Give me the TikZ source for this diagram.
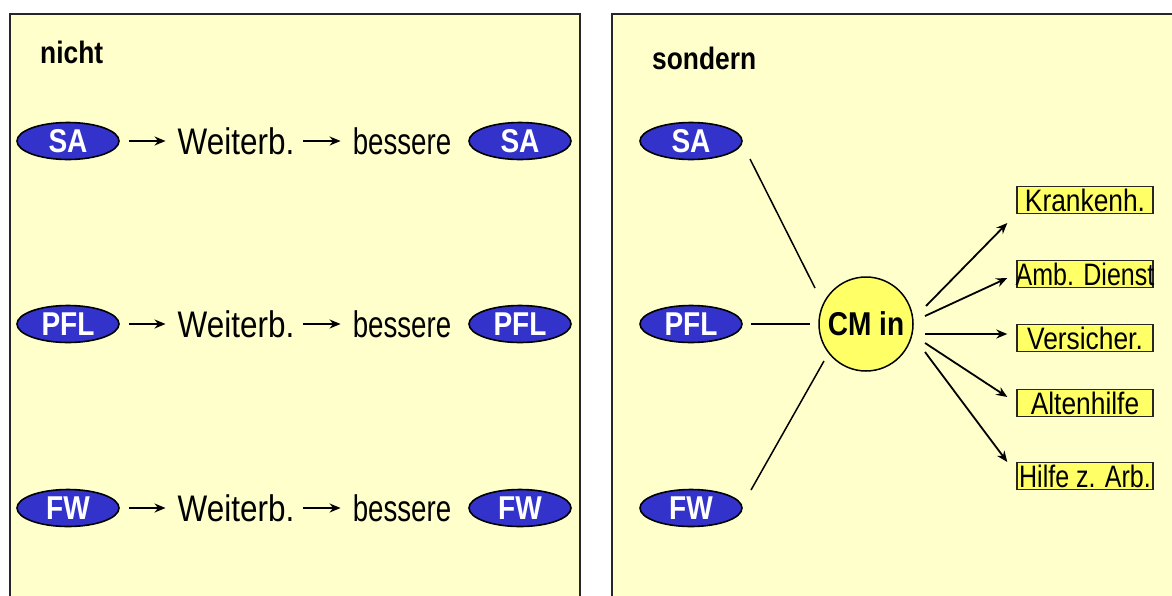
\documentclass[tikz,border=0pt]{standalone}
\usepackage{fontspec}
\setmainfont{Liberation Sans}
\newfontfamily\cf[FakeStretch=0.85]{Liberation Sans}
\usetikzlibrary{arrows.meta,shapes.geometric}
\definecolor{panelbg}{HTML}{FFFFCC}
\definecolor{ellblue}{HTML}{3333CC}
\definecolor{cmyellow}{HTML}{FFFF66}
\tikzset{
  panelbox/.style={draw=black!85, line width=1.5pt, fill=panelbg},
  grp/.style={ellipse, draw=black, line width=1.6pt, fill=ellblue, minimum width=102pt, minimum height=37pt, inner sep=0pt,
     text=white, font=\cf\bfseries\fontsize{33}{33}\selectfont},
  wordtxt/.style={inner sep=0pt, font=\cf\fontsize{37}{37}\selectfont},
  ttl/.style={inner sep=0pt, anchor=west, font=\cf\bfseries\fontsize{31}{31}\selectfont},
  cmcircle/.style={circle, draw=black, line width=1.5pt, fill=cmyellow, minimum size=94pt, inner sep=0pt,
     font=\cf\bfseries\fontsize{33}{33}\selectfont},
  inst/.style={draw=black!85, line width=1.4pt, fill=cmyellow, minimum width=136pt, minimum height=27pt, inner sep=0pt,
     font=\cf\fontsize{31}{31}\selectfont},
  sarr/.style={-{Stealth[length=11pt,width=9pt]}, line width=1.8pt},
  conn/.style={line width=1.5pt},
}
\newcommand{\fixw}[1]{\makebox[136pt][c]{#1}}
\begin{document}
\begin{tikzpicture}[x=1pt,y=-1pt]
\useasboundingbox (0,0) rectangle (1172,595);
\fill[white] (0,0) rectangle (1172,595);
\begin{scope}
\clip (0,0) rectangle (1172,595);
\draw[panelbox] (10,14) rectangle (580,610);
\draw[panelbox] (612,14) rectangle (1190,610);
\end{scope}

\node[ttl] (nicht) at (40,52) {nicht};
\node[ttl] (sondern) at (652,58) {sondern};

% left panel rows
\foreach \lab/\y in {SA/141, PFL/324, FW/508}{
  \node[grp] (L\lab) at (68,\y) {\lab};
  \node[wordtxt] (W\lab) at (236,\y) {Weiterb.};
  \node[wordtxt] (B\lab) at (402,\y) {\scalebox{0.88}[1]{bessere}};
  \node[grp] (R\lab) at (520,\y) {\lab};
  \draw[sarr] ([xshift=9pt]L\lab.east) -- ([xshift=-12pt]W\lab.west);
  \draw[sarr] ([xshift=9pt]W\lab.east) -- ([xshift=-12pt]B\lab.west);
}

% right panel
\node[grp] (SA) at (691,141) {SA};
\node[grp] (PFL) at (691,324) {PFL};
\node[grp] (FW) at (691,508) {FW};
\node[cmcircle] (CM) at (866,324) {CM in};

\coordinate (sa1) at (750,159);
\coordinate (sa2) at (815,288);
\coordinate (fw1) at (751,490);
\coordinate (fw2) at (824,361);
\draw[conn] (sa1) -- (sa2);
\draw[conn] ([xshift=8pt]PFL.east) -- ([xshift=-8pt]CM.west);
\draw[conn] (fw1) -- (fw2);

\node[inst] (K) at (1085,200) {\fixw{Krankenh.}};
\node[inst] (A) at (1085,274) {\fixw{\scalebox{0.95}[1]{Amb. Dienst}}};
\node[inst] (V) at (1085,338) {\fixw{Versicher.}};
\node[inst] (H) at (1085,403) {\fixw{Altenhilfe}};
\node[inst] (Z) at (1085,476) {\fixw{\scalebox{0.95}[1]{Hilfe z. Arb.}}};

\coordinate (k1) at (926,306);
\coordinate (a1) at (925,316);
\coordinate (v1) at (925,334);
\coordinate (h1) at (925,343);
\coordinate (z1) at (925,352);
\draw[sarr] (k1) -- ([xshift=-9pt,yshift=-23pt]K.west);
\draw[sarr] (a1) -- ([xshift=-9pt,yshift=-4pt]A.west);
\draw[sarr] (v1) -- ([xshift=-9pt,yshift=4pt]V.west);
\draw[sarr] (h1) -- ([xshift=-9pt,yshift=6pt]H.west);
\draw[sarr] (z1) -- ([xshift=-9pt,yshift=14pt]Z.west);
\end{tikzpicture}
\end{document}
